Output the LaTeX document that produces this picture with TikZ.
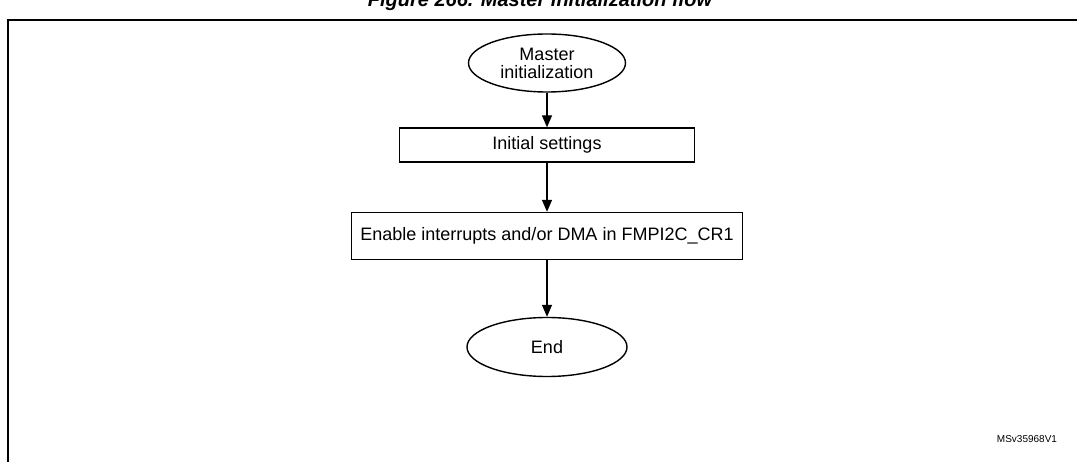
\documentclass[tikz,border=0pt]{standalone}
\usepackage{fontspec}
\setmainfont{Liberation Sans}
\usetikzlibrary{shapes.geometric,arrows.meta}
\tikzset{
  term/.style={draw,line width=1.4pt,ellipse,minimum width=157pt,minimum height=58pt,align=center,font=\fontsize{18}{20}\selectfont},
  proc/.style={draw,line width=1.4pt,rectangle,minimum height=34pt,font=\fontsize{18}{20}\selectfont},
  flow/.style={line width=1.4pt,-{Triangle[length=12pt,width=10pt]}}
}
\begin{document}
\begin{tikzpicture}[x=1pt,y=-1pt]
\useasboundingbox (0,0) rectangle (1077,462);
\begin{scope}
\clip (0,0) rectangle (1077,462);
\node[font=\bfseries\itshape\fontsize{20}{22}\selectfont] (title) at (540,1) {Figure 266. Master initialization flow};
\draw[line width=1.6pt] (8,470)--(8,20)--(1085,20);
\end{scope}

\node[term,inner sep=1pt] (start) at (547,63) {Master\\[-2pt]initialization};
\node[proc,minimum width=295pt] (init) at (547,145) {Initial settings};
\node[proc,minimum width=391pt,minimum height=47pt] (irq) at (547,236) {Enable interrupts and/or DMA in FMPI2C\_CR1};
\node[term,minimum width=160pt,minimum height=59pt] (stop) at (547,347) {End};

\draw[flow] (start) -- (init);
\draw[flow] (init) -- (irq);
\draw[flow] (irq) -- (stop);

\node[font=\fontsize{10}{12}\selectfont] (ref) at (1027,439) {MSv35968V1};
\end{tikzpicture}
\end{document}
